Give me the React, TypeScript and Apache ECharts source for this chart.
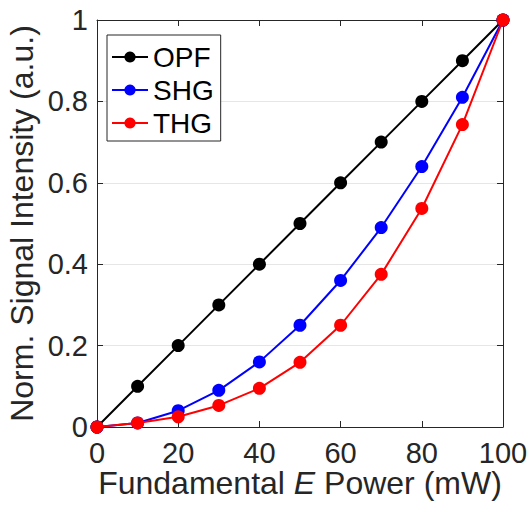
import React, { useEffect, useRef } from "react";
import * as echarts from "echarts";

const powers = [0, 10, 20, 30, 40, 50, 60, 70, 80, 90, 100];
const opfValues = [0, 0.1, 0.2, 0.3, 0.4, 0.5, 0.6, 0.7, 0.8, 0.9, 1];
const shgValues = [0, 0.01, 0.04, 0.09, 0.16, 0.25, 0.36, 0.49, 0.64, 0.81, 1];
const thgValues = [0, 0.01, 0.025, 0.053, 0.095, 0.159, 0.25, 0.375, 0.537, 0.743, 1];
const seriesNames = ["OPF", "SHG", "THG"];
const seriesColors = ["#000000", "#0000ff", "#ff0000"];

const FONT = "'Liberation Sans', Arial, Helvetica, sans-serif";
const AX = "#262626";

export default function App() {
  const ref = useRef<HTMLDivElement>(null);
  useEffect(() => {
    if (!ref.current) return;
    const chart = echarts.init(ref.current, undefined, { renderer: "svg" });
    const all = [opfValues, shgValues, thgValues];
    const baseX = {
      type: "value" as const,
      min: 0,
      max: 100,
      interval: 20,
      axisLine: { show: true, onZero: false, lineStyle: { color: AX, width: 1 } },
      axisTick: { show: true, inside: true, length: 6, lineStyle: { color: AX } },
      splitLine: { show: false },
    };
    const baseY = {
      type: "value" as const,
      min: 0,
      max: 1,
      interval: 0.2,
      axisLine: { show: true, onZero: false, lineStyle: { color: AX, width: 1 } },
      axisTick: { show: true, inside: true, length: 6, lineStyle: { color: AX } },
    };
    chart.setOption({
      animation: false,
      textStyle: { fontFamily: FONT },
      grid: {
        left: 97,
        top: 20,
        width: 406,
        height: 407,
        containLabel: false,
        outerBoundsMode: "none",
      },
      legend: {
        show: true,
        left: 107,
        top: 35,
        orient: "vertical",
        data: seriesNames,
        itemWidth: 36,
        itemHeight: 14,
        itemGap: 5,
        padding: [8, 7, 4, 4],
        borderColor: AX,
        borderWidth: 1,
        backgroundColor: "#ffffff",
        borderRadius: 0,
        textStyle: { fontSize: 28, color: "#000000", fontFamily: FONT },
      },
      xAxis: [
        {
          ...baseX,
          position: "bottom",
          axisLabel: {
            show: true,
            fontSize: 29,
            lineHeight: 24,
            color: AX,
            margin: 14,
            fontFamily: FONT,
          },
          name: "Fundamental {i|E} Power (mW)",
          nameLocation: "middle",
          nameGap: 40,
          nameMoveOverlap: false,
          nameTextStyle: {
            fontSize: 32,
            lineHeight: 32,
            color: AX,
            fontFamily: FONT,
            rich: {
              i: { fontSize: 32, lineHeight: 32, fontStyle: "italic", color: AX, fontFamily: FONT },
            },
          },
        },
        { ...baseX, position: "top", axisLabel: { show: false } },
      ],
      yAxis: [
        {
          ...baseY,
          position: "left",
          axisLabel: { show: true, fontSize: 29, color: AX, margin: 9, fontFamily: FONT },
          splitLine: { show: true, lineStyle: { color: "#e6e6e6", width: 1 } },
          name: "Norm. Signal Intensity (a.u.)",
          nameLocation: "middle",
          nameGap: 59,
          nameMoveOverlap: false,
          nameTextStyle: { fontSize: 32, color: AX, fontFamily: FONT },
        },
        { ...baseY, position: "right", axisLabel: { show: false }, splitLine: { show: false } },
      ],
      series: seriesNames.map((name, k) => ({
        name,
        type: "line",
        xAxisIndex: 0,
        yAxisIndex: 0,
        data: powers.map((p, i) => [p, all[k][i]]),
        symbol: "circle",
        symbolSize: 13,
        showAllSymbol: true,
        lineStyle: { color: seriesColors[k], width: 2 },
        itemStyle: { color: seriesColors[k] },
        z: 2 + k,
      })),
    });
    return () => chart.dispose();
  }, []);
  return (
    <div
      ref={ref}
      style={{ position: "fixed", left: 0, top: 0, width: 530, height: 505, background: "#fff" }}
    />
  );
}
